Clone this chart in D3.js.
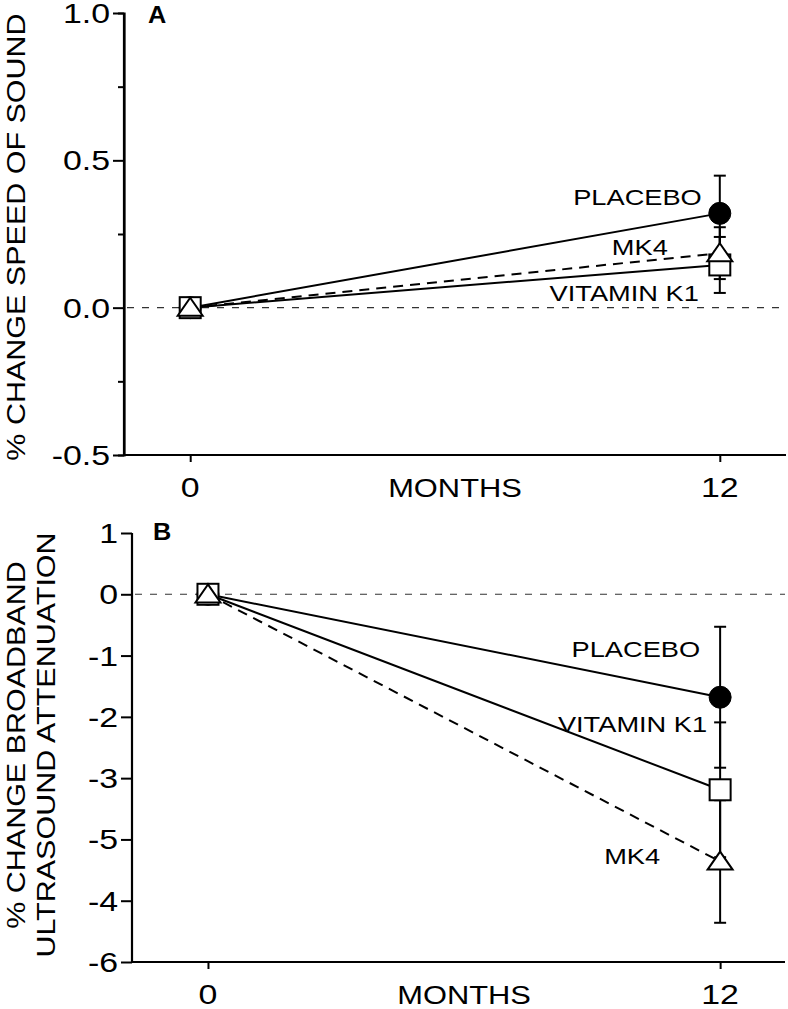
<!DOCTYPE html>
<html>
<head>
<meta charset="utf-8">
<script src="https://cdn.jsdelivr.net/npm/d3@7"></script>
<style>
  html, body { margin: 0; padding: 0; background: #fff; }
  svg { display: block; }
  text { font-family: "Liberation Sans", Arial, sans-serif; fill: #000; }
</style>
</head>
<body>
<svg id="chart" width="788" height="1009"></svg>
<script>
// ---------- DATA ----------
const months = [0, 12];
const seriesNames = ["PLACEBO", "VITAMIN K1", "MK4"];

// Panel A: % change speed of sound
const aPlacebo = [0, 0.32];
const aVitK1   = [0, 0.145];
const aMK4     = [0, 0.185];
const aErrPlacebo = [0, 0.128];
const aErrVitK1   = [0, 0.095];
const aErrMK4     = [0, 0.088];
const aYTicks = [-0.5, 0.0, 0.5, 1.0];
const aYTickLabels = ["-0.5", "0.0", "0.5", "1.0"];
const aYMinorTicks = [-0.25, 0.25, 0.75];

// Panel B: % change broadband ultrasound attenuation
const bPlacebo = [0, -1.68];
const bVitK1   = [0, -3.19];
const bMK4     = [0, -4.36];
const bErrPlacebo = [0, 1.15];
const bErrVitK1   = [0, 1.10];
const bErrMK4     = [0, 1.0];
const bYTicks = [1, 0, -1, -2, -3, -4, -5, -6];
const bYTickLabels = ["1", "0", "-1", "-2", "-3", "-5", "-4", "-6"];

const xTicks = [0, 12];
const xTickLabels = ["0", "12"];

// ---------- DRAW ----------
const svg = d3.select("#chart");
const SX = 1.21; // horizontal glyph stretch of the original typeface

function stext(g, x, y, str, o = {}) {
  const rot = o.rotate ? ` rotate(${o.rotate})` : "";
  const sx = o.sx == null ? SX : o.sx;
  return g.append("text")
    .attr("transform", `translate(${x},${y})${rot} scale(${sx},1)`)
    .attr("text-anchor", o.anchor || "start")
    .attr("font-size", o.size || 28)
    .attr("font-weight", o.weight || "normal")
    .text(str);
}

function panel(cfg) {
  const g = svg.append("g");
  const x = d3.scaleLinear().domain(cfg.xDomain).range(cfg.xRange);
  const y = d3.scaleLinear().domain(cfg.yDomain).range(cfg.yRange);
  const x0 = cfg.xRange[0], y0 = cfg.yRange[0];

  // zero reference line
  g.append("line")
    .attr("x1", x0 + 3).attr("x2", cfg.xRange[1])
    .attr("y1", y(0)).attr("y2", y(0))
    .attr("stroke", "#333").attr("stroke-width", 1.1)
    .attr("stroke-dasharray", "7,8");

  // y axis
  const ya = g.append("g").attr("transform", `translate(${x0},0)`)
    .call(d3.axisLeft(y).tickValues(cfg.yTicks).tickSize(11).tickFormat(""));
  if (cfg.yMinor) {
    g.append("g").attr("transform", `translate(${x0},0)`)
      .call(d3.axisLeft(y).tickValues(cfg.yMinor).tickSize(6).tickFormat(""));
  }
  // x axis
  const xa = g.append("g").attr("transform", `translate(0,${y0})`)
    .call(d3.axisBottom(x).tickValues(xTicks).tickSize(7).tickFormat(""));
  g.selectAll(".domain").attr("stroke", "#000").attr("stroke-width", 2.2);
  g.selectAll(".tick line").attr("stroke", "#000").attr("stroke-width", 2);
  ya.select(".domain").attr("d", `M0,${cfg.yRange[1]}V${y0}`);
  xa.select(".domain").attr("d", `M${x0},0H${cfg.xRange[1]}`);

  // y tick labels
  cfg.yTicks.forEach((t, i) => {
    stext(g, x0 - 14, y(t) + 10, cfg.yTickLabels[i], { anchor: "end", size: 28 });
  });
  // x tick labels
  xTicks.forEach((t, i) => {
    stext(g, x(t), y0 + 42, xTickLabels[i], { anchor: "middle", size: 28 });
  });
  // x title
  stext(g, (x(0) + x(12)) / 2, y0 + 42, "MONTHS", { anchor: "middle", size: 25.5 });

  // y title lines
  cfg.yTitle.forEach((line, i) => {
    stext(g, cfg.yTitleX[i], cfg.yTitleY, line, { anchor: "middle", size: 25.2, rotate: -90 });
  });

  // panel letter
  stext(g, cfg.letterX, cfg.letterY, cfg.letter, { size: 23, weight: "bold", sx: 1.1 });

  const series = cfg.series;
  const line = d3.line().x((d, i) => x(months[i])).y(d => y(d));

  // connecting lines
  series.forEach(s => {
    g.append("path").datum(s.values)
      .attr("d", line)
      .attr("fill", "none").attr("stroke", "#000").attr("stroke-width", 2)
      .attr("stroke-dasharray", s.dash ? "10,7" : null);
  });

  // error bars
  series.forEach(s => {
    s.values.forEach((v, i) => {
      const e = s.err[i];
      if (!e) return;
      const cx = x(months[i]);
      g.append("line").attr("x1", cx).attr("x2", cx)
        .attr("y1", y(v + e)).attr("y2", y(v - e))
        .attr("stroke", "#000").attr("stroke-width", 2);
      [v + e, v - e].forEach(c => {
        g.append("line").attr("x1", cx - 6).attr("x2", cx + 6)
          .attr("y1", y(c)).attr("y2", y(c))
          .attr("stroke", "#000").attr("stroke-width", 2);
      });
    });
  });

  // markers
  series.forEach(s => {
    s.values.forEach((v, i) => {
      const cx = x(months[i]), cy = y(v);
      if (s.marker === "circle") {
        g.append("circle").attr("cx", cx).attr("cy", cy).attr("r", 11)
          .attr("fill", "#000").attr("stroke", "#000").attr("stroke-width", 1);
      } else if (s.marker === "square") {
        g.append("rect").attr("x", cx - 10.5).attr("y", cy - 10.5)
          .attr("width", 21).attr("height", 21)
          .attr("fill", "#fff").attr("stroke", "#000").attr("stroke-width", 2);
      } else {
        const w = 12.5, h = 18;
        g.append("path")
          .attr("d", `M${cx},${cy - h * 0.55}L${cx + w},${cy + h * 0.45}L${cx - w},${cy + h * 0.45}Z`)
          .attr("fill", "#fff").attr("stroke", "#000").attr("stroke-width", 2)
          .attr("stroke-linejoin", "miter");
      }
    });
  });

  // series labels
  series.forEach(s => {
    const last = s.values.length - 1;
    stext(g, x(months[last]) + s.labelDx, y(s.values[last]) + s.labelDy, s.name,
      { anchor: "end", size: 22.5 });
  });
}

panel({
  xDomain: [-1.5, 13.5], xRange: [124, 786],
  yDomain: [-0.5, 1.0], yRange: [455, 13],
  yTicks: aYTicks, yTickLabels: aYTickLabels, yMinor: aYMinorTicks,
  yTitle: ["% CHANGE SPEED OF SOUND"], yTitleX: [25], yTitleY: 237,
  letter: "A", letterX: 148, letterY: 23,
  series: [
    { name: seriesNames[0], values: aPlacebo, err: aErrPlacebo, marker: "circle", dash: false, labelDx: -18, labelDy: -8 },
    { name: seriesNames[1], values: aVitK1, err: aErrVitK1, marker: "square", dash: false, labelDx: -21, labelDy: 36 },
    { name: seriesNames[2], values: aMK4, err: aErrMK4, marker: "triangle", dash: true, labelDx: -52, labelDy: 2 }
  ]
});

panel({
  xDomain: [-1.78, 13.52], xRange: [132, 785],
  yDomain: [-6, 1], yRange: [962, 533],
  yTicks: bYTicks, yTickLabels: bYTickLabels, yMinor: null,
  yTitle: ["% CHANGE BROADBAND", "ULTRASOUND ATTENUATION"], yTitleX: [25, 55], yTitleY: 745,
  letter: "B", letterX: 153, letterY: 540,
  series: [
    { name: seriesNames[0], values: bPlacebo, err: bErrPlacebo, marker: "circle", dash: false, labelDx: -20, labelDy: -40 },
    { name: seriesNames[1], values: bVitK1, err: bErrVitK1, marker: "square", dash: false, labelDx: -13, labelDy: -58 },
    { name: seriesNames[2], values: bMK4, err: bErrMK4, marker: "triangle", dash: true, labelDx: -60, labelDy: 3 }
  ]
});
</script>
</body>
</html>
